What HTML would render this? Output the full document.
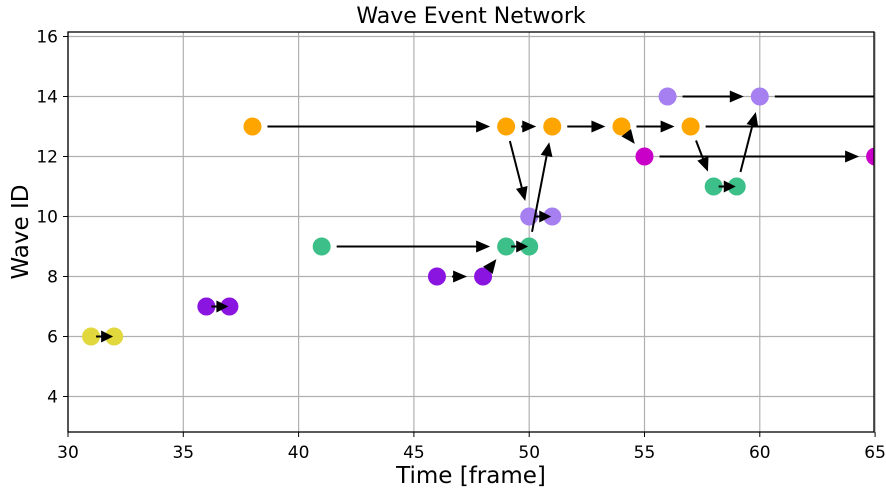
<!DOCTYPE html>
<html><head><meta charset="utf-8"><style>
body{margin:0;background:#fff}
svg text{font-family:"DejaVu Sans","Liberation Sans",sans-serif;fill:#000}
</style></head><body>
<svg id="c" width="886" height="493">
<defs><clipPath id="pc"><rect x="68" y="32" width="806" height="400"/></clipPath></defs>
<g id="grid"></g>
<g id="marks" clip-path="url(#pc)"></g>
<rect x="68" y="32" width="806" height="400" fill="none" stroke="#000" stroke-width="1.3"/>
<g id="ticks"></g>
<text x="471" y="23" font-size="22" text-anchor="middle">Wave Event Network</text>
<text x="471" y="483" font-size="23" text-anchor="middle">Time [frame]</text>
<text transform="translate(28,232) rotate(-90)" font-size="23" text-anchor="middle">Wave ID</text>
</svg>
<script>
const xTicks=[30,35,40,45,50,55,60,65];
const yTicks=[4,6,8,10,12,14,16];
const nodeT=[31,32,36,37,38,49,51,54,57,41,49,50,50,51,46,48,55,65,56,60,58,59];
const nodeW=[6,6,7,7,13,13,13,13,13,9,9,9,10,10,8,8,12,12,14,14,11,11];
const nodeC=["#e0d83c","#e0d83c","#8a14e0","#8a14e0","#ffa500","#ffa500","#ffa500","#ffa500","#ffa500","#3cbf88","#3cbf88","#3cbf88","#a67ff0","#a67ff0","#8a14e0","#8a14e0","#c800c8","#c800c8","#a67ff0","#a67ff0","#3cbf88","#3cbf88"];
const edgeFromT=[31,36,38,49,51,54,57,49,54,57,41,49,50,50,46,48,55,56,60,58,59];
const edgeFromW=[6,7,13,13,13,13,13,13,13,13,9,9,9,10,8,8,12,14,14,11,11];
const edgeToT=[32,37,49,51,54,57,67,50,55,58,49,50,51,51,48,49,65,60,67,59,60];
const edgeToW=[6,7,13,13,13,13,13,10,12,11,9,9,13,10,8,9,12,14,14,11,14];
const X=t=>68+(t-30)*23.06, Y=w=>336.5-(w-6)*30;
const NS="http://www.w3.org/2000/svg";
function mk(tag,attrs,parent){const e=document.createElementNS(NS,tag);for(const k in attrs)e.setAttribute(k,attrs[k]);parent.appendChild(e);return e;}
const grid=document.getElementById('grid'),ticks=document.getElementById('ticks'),marks=document.getElementById('marks');
xTicks.forEach(t=>{
 const l=mk('line',{x1:X(t),x2:X(t),y1:32,y2:432,stroke:'#b0b0b0','stroke-width':1.2},grid);
 
 
 mk('line',{x1:X(t),x2:X(t),y1:432,y2:437,stroke:'#000'},ticks);
 const tx=mk('text',{x:X(t),y:458,'font-size':17,'text-anchor':'middle'},ticks);tx.textContent=t;
 
 
});
yTicks.forEach(w=>{
 const l=mk('line',{x1:68,x2:874,y1:Y(w),y2:Y(w),stroke:'#b0b0b0','stroke-width':1.2},grid);
 
 
 mk('line',{x1:63,x2:68,y1:Y(w),y2:Y(w),stroke:'#000'},ticks);
 const tx=mk('text',{x:58,y:Y(w)+6,'font-size':17,'text-anchor':'end'},ticks);tx.textContent=w;
 
 
});
nodeT.forEach((t,i)=>{
 const c=mk('circle',{cx:X(t),cy:Y(nodeW[i]),r:9,fill:nodeC[i]},marks);
 
 
});
edgeFromT.forEach((t,i)=>{
 const x1=X(t),y1=Y(edgeFromW[i]),x2=X(edgeToT[i]),y2=Y(edgeToW[i]);
 const dx=x2-x1,dy=y2-y1,L=Math.hypot(dx,dy),ux=dx/L,uy=dy/L;
 const short=L<30;
 const s0=short?5:15, e0=short?1:16;
 const sx=x1+ux*s0,sy=y1+uy*s0,ex=x2-ux*e0,ey=y2-uy*e0;
 const g=mk('g',{},marks);
 
 
 const hl=short?12:14,hw=6;
 const bx=ex-ux*hl,by=ey-uy*hl;
 mk('line',{x1:sx,y1:sy,x2:bx+ux*2,y2:by+uy*2,stroke:'#000','stroke-width':2},g);
 mk('polygon',{points:`${ex},${ey} ${bx-uy*hw},${by+ux*hw} ${bx+uy*hw},${by-ux*hw}`,fill:'#000'},g);
});
</script>
</body></html>
